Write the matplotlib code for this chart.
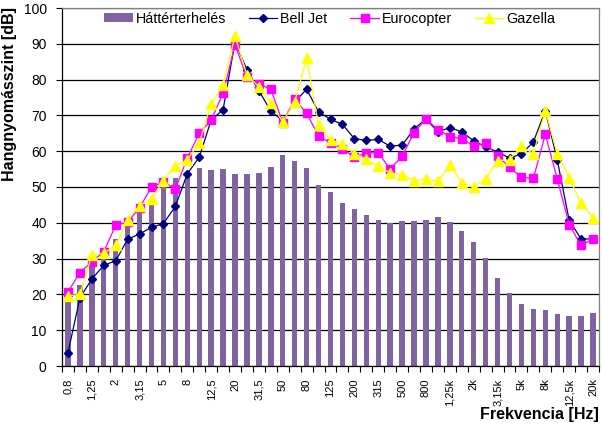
import matplotlib
matplotlib.use("Agg")
import matplotlib.pyplot as plt
import numpy as np
from matplotlib.ticker import MultipleLocator

plt.rcParams['font.family'] = ['Liberation Sans', 'DejaVu Sans']

freqs = ['0,8', '1', '1,25', '1,6', '2', '2,5', '3,15', '4', '5', '6,3', '8', '10',
         '12,5', '16', '20', '25', '31,5', '40', '50', '63', '80', '100', '125', '160',
         '200', '250', '315', '400', '500', '630', '800', '1k', '1,25k', '1,6k', '2k',
         '2,5k', '3,15k', '4k', '5k', '6,3k', '8k', '10k', '12,5k', '16k', '20k']

hatter = [18.2, 22.6, 27.7, 30.5, 35.5, 38.9, 42.8, 45.4, 50.0, 52.4,
          53.8, 55.2, 54.7, 55.0, 53.6, 53.6, 53.9, 55.6, 58.9, 57.3,
          55.3, 50.6, 48.6, 45.6, 43.8, 42.2, 40.8, 39.9, 40.5, 40.5,
          40.8, 41.6, 40.2, 37.7, 34.6, 30.2, 24.6, 20.3, 17.3, 15.9,
          15.6, 14.5, 14.1, 14.1, 14.8]

bell_jet = [3.7, 19.0, 24.3, 28.1, 29.4, 35.4, 36.9, 38.7, 39.8, 44.6, 53.7, 58.3,
            68.7, 71.6, 90.6, 82.7, 76.9, 71.2, 68.5, 73.8, 77.3, 71.0,
            68.9, 67.5, 63.5, 63.0, 63.3, 61.4, 61.7, 66.2, 69.0, 65.4,
            66.6, 65.4, 62.9, 61.2, 59.8, 58.1, 59.2, 62.6, 71.3, 57.6, 40.7, 35.5, 35.5]

eurocopter = [20.7, 26.1, 29.1, 31.9, 39.3, 40.2, 44.2, 50.0, 51.4, 49.4, 58.1, 65.0,
              68.7, 76.2, 89.7, 80.6, 78.8, 77.3, 68.0, 74.5, 70.6, 64.2,
              62.3, 60.7, 58.3, 59.5, 59.6, 55.0, 58.6, 65.2, 69.0, 66.0,
              64.1, 63.5, 61.4, 62.2, 58.7, 55.5, 52.7, 52.4, 64.7, 52.3, 39.5, 33.7, 35.5]

gazella = [19.6, 20.0, 30.9, 31.5, 33.7, 40.9, 44.8, 46.7, 51.8, 55.9, 57.6, 62.3,
           73.2, 78.5, 92.2, 81.3, 78.0, 73.4, 68.2, 73.8, 85.9, 67.3,
           63.2, 62.0, 59.3, 57.8, 55.8, 54.0, 53.4, 51.8, 52.2, 51.6,
           56.2, 51.2, 50.1, 52.2, 57.4, 57.5, 61.4, 59.3, 71.3, 59.3, 52.6, 45.4, 41.4]

x = np.arange(len(freqs))

fig = plt.figure(figsize=(6.02, 4.28), dpi=100)
ax = fig.add_axes([62/602, 1-366/428, (599-62)/602, (366-8)/428])

hb = ax.bar(x, hatter, width=0.45, color='#8064A2', label='Háttérterhelés', zorder=2)
h1, = ax.plot(x, bell_jet, color='#000080', lw=0.9, marker='D', ms=4.5,
              markeredgecolor='#000080', markerfacecolor='#000080', label='Bell Jet', zorder=3)
h2, = ax.plot(x, eurocopter, color='#FF00FF', lw=0.9, marker='s', ms=6,
              markeredgecolor='#FF00FF', markerfacecolor='#FF00FF', label='Eurocopter', zorder=4)
h3, = ax.plot(x, gazella, color='#FFFF00', lw=0.9, marker='^', ms=6.5,
              markeredgecolor='#FFFF00', markerfacecolor='#FFFF00', label='Gazella', zorder=5)

ax.set_xlim(-0.5, len(freqs) - 0.5)
ax.set_ylim(0, 100)
ax.yaxis.set_major_locator(MultipleLocator(10))
ax.grid(axis='y', color='black', lw=0.9)
ax.set_axisbelow(True)

ax.set_xticks(x[::2])
ax.set_xticklabels(freqs[::2], rotation=90, fontsize=8, va='top', ha='center')
ax.set_xticks(np.arange(-0.5, len(freqs), 1), minor=True)
ax.tick_params(axis='x', which='major', length=0, pad=9)
ax.tick_params(axis='x', which='minor', length=4, width=0.8, color='black')
ax.tick_params(axis='y', length=4, width=0.8, pad=7, labelsize=10)

for s in ['top', 'right']:
    ax.spines[s].set_color('#808080')
    ax.spines[s].set_linewidth(0.9)
for s in ['left', 'bottom']:
    ax.spines[s].set_color('black')
    ax.spines[s].set_linewidth(0.9)

fig.text(10/602, 1-94/428, 'Hangnyomásszint [dB]', rotation=90, fontsize=11.5,
         fontweight='bold', ha='center', va='center')
fig.text(599/602, 1-414/428, 'Frekvencia [Hz]', fontsize=11.5, fontweight='bold',
         ha='right', va='center')

leg = ax.legend(handles=[hb, h1, h2, h3],
                loc='center left', bbox_to_anchor=(104/602, 1-19/428),
                bbox_transform=fig.transFigure, ncol=4, frameon=False,
                fontsize=10.3, handlelength=2.0, handletextpad=0.2,
                columnspacing=1.6, borderpad=0, borderaxespad=0,
                handleheight=0.6)
leg.set_zorder(10)

fig.savefig('out.png', dpi=100)
